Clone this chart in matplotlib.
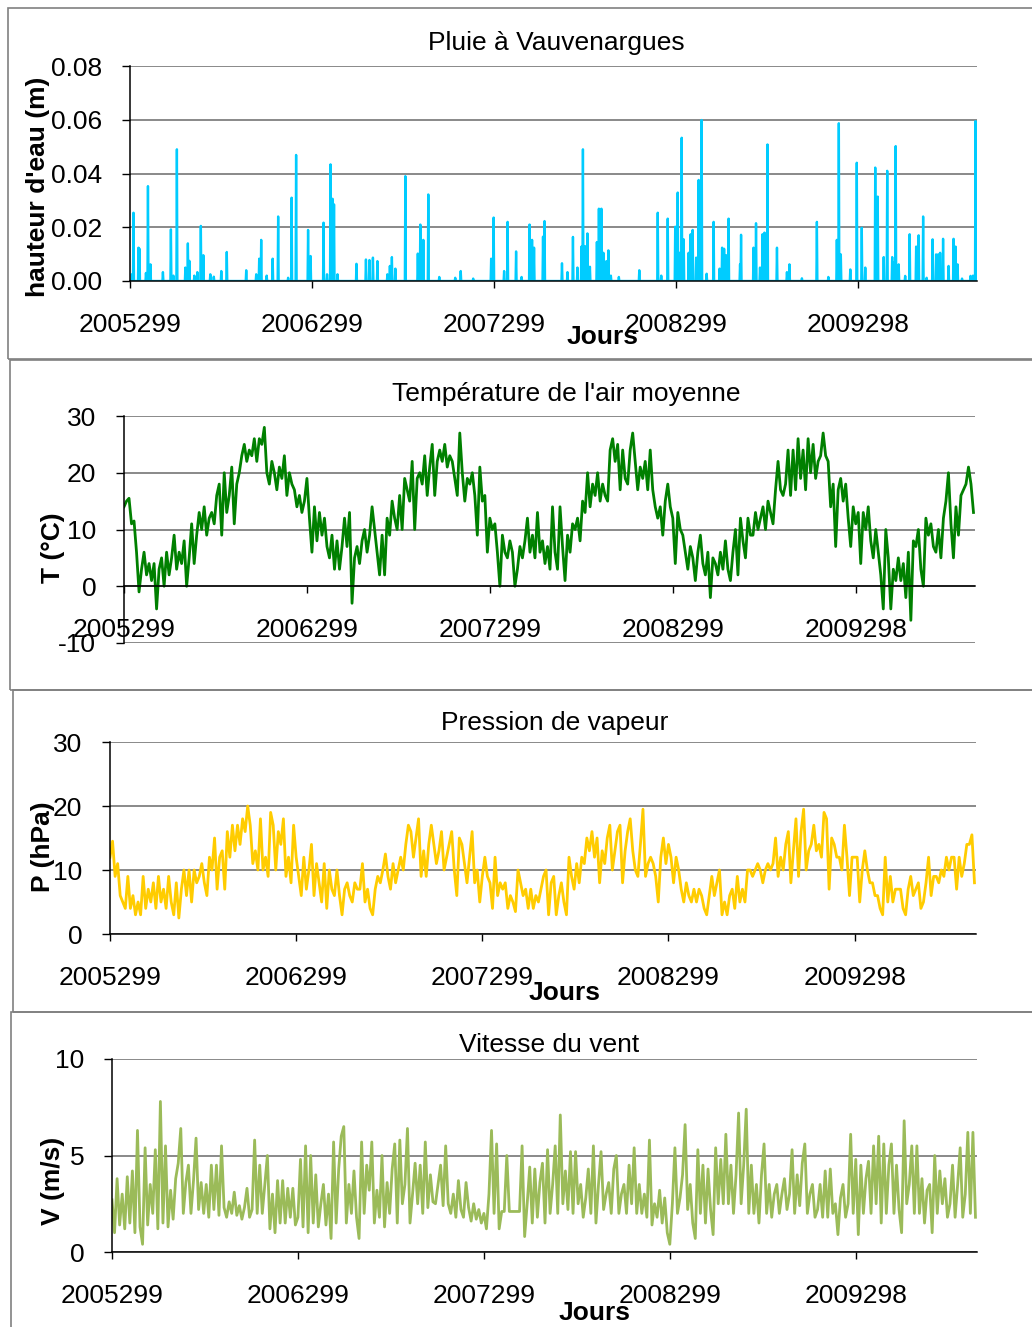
import numpy as np
import matplotlib.pyplot as plt
from matplotlib.patches import Rectangle
from matplotlib.ticker import FormatStrFormatter

plt.rcParams['font.family'] = ['Liberation Sans', 'DejaVu Sans']

# ---------------------------------------------------------------
# donnees (jours comptes depuis 2005299, un point tous les 5 jours)
# ---------------------------------------------------------------
jours = np.arange(0, 1700, 5)

graduations = [0, 365, 730, 1095, 1460]
etiquettes = ['2005299', '2006299', '2007299', '2008299', '2009298']

# pluie : jours de pluie et hauteur d'eau (m), zero les autres jours
pluie_jour = [4, 7, 17, 19, 32, 36, 41, 66, 82, 87, 94, 111, 116, 119, 129, 135, 142, 147, 161, 168,
              183, 194, 233, 253, 259, 263, 274, 286, 297, 317, 324, 333, 357, 362, 388, 395, 402, 406, 409, 416,
              454, 473, 480, 487, 496, 516, 521, 525, 532, 552, 577, 582, 588, 598, 620, 652, 663, 688, 724, 729,
              750, 757, 774, 785, 801, 806, 810, 828, 831, 866, 877, 888, 897, 905, 908, 912, 917, 922, 936, 940,
              945, 949, 955, 959, 964, 980, 1021, 1058, 1065, 1078, 1093, 1098, 1102, 1106, 1110, 1120, 1124, 1128, 1135, 1140,
              1146, 1156, 1170, 1182, 1187, 1191, 1195, 1200, 1223, 1225, 1250, 1255, 1263, 1268, 1272, 1278, 1297, 1317, 1322, 1347,
              1377, 1400, 1417, 1421, 1425, 1444, 1457, 1467, 1474, 1494, 1499, 1511, 1518, 1528, 1531, 1535, 1541, 1554, 1563, 1576,
              1581, 1590, 1597, 1609, 1616, 1620, 1624, 1630, 1641, 1651, 1655, 1659, 1668, 1685, 1690, 1695]
pluie_h = [0.0025, 0.0254, 0.0124, 0.012, 0.003, 0.0353, 0.0062, 0.0033, 0.0192, 0.002, 0.049, 0.005, 0.014, 0.0075, 0.002, 0.0033, 0.0205, 0.0096, 0.0025, 0.0016,
           0.0037, 0.0108, 0.004, 0.0025, 0.0083, 0.0153, 0.002, 0.0083, 0.024, 0.0012, 0.031, 0.0469, 0.019, 0.0093, 0.0217, 0.0025, 0.0434, 0.0306, 0.0285, 0.0025,
           0.0064, 0.008, 0.0078, 0.0087, 0.0074, 0.0025, 0.0056, 0.0089, 0.0046, 0.039, 0.0102, 0.021, 0.0153, 0.0322, 0.0015, 0.0012, 0.0037, 0.0009, 0.0083, 0.0236,
           0.0037, 0.022, 0.011, 0.0015, 0.021, 0.0153, 0.0124, 0.0165, 0.0223, 0.0066, 0.0033, 0.0164, 0.005, 0.0128, 0.049, 0.013, 0.0177, 0.0053, 0.0145, 0.0269,
           0.0269, 0.0105, 0.0074, 0.0114, 0.002, 0.0015, 0.004, 0.0254, 0.002, 0.0232, 0.0202, 0.0329, 0.0105, 0.0533, 0.0155, 0.0105, 0.0174, 0.019, 0.0087, 0.0376,
           0.0599, 0.0027, 0.022, 0.0046, 0.0124, 0.012, 0.0096, 0.0232, 0.0062, 0.0172, 0.0124, 0.0215, 0.005, 0.0174, 0.018, 0.0508, 0.0124, 0.0033, 0.0062, 0.001,
           0.022, 0.0015, 0.0153, 0.0587, 0.0099, 0.0043, 0.044, 0.0198, 0.005, 0.0422, 0.0314, 0.0089, 0.041, 0.0089, 0.0068, 0.0502, 0.0062, 0.0019, 0.0174, 0.0128,
           0.017, 0.024, 0.0012, 0.0155, 0.0099, 0.0099, 0.0105, 0.0157, 0.0056, 0.0157, 0.0128, 0.0062, 0.0009, 0.0019, 0.002, 0.0595]

# temperature de l'air moyenne (degC)
temp = [14, 15, 15.5, 11, 11.5, 6, -1, 3, 6, 2, 4, 1, 4, -4, 3, 5, 0, 6, 2, 5,
        9, 3, 6, 4, 8, 0, 5, 11, 4, 9, 13, 10, 14, 9, 12, 13, 11, 16, 18, 9,
        20, 13, 16, 21, 11, 18, 20, 23, 25, 22, 24, 23, 26, 22, 26, 25, 28, 20, 18, 22,
        20, 17, 21, 19, 23, 16, 20, 18, 17, 14, 16, 13, 15, 19, 12, 6, 14, 8, 13, 9,
        12, 7, 5, 9, 3, 8, 3, 7, 12, 7, 13, -3, 5, 7, 4, 8, 10, 6, 9, 14,
        10, 6, 2, 9, 2, 12, 9, 15, 12, 10, 16, 10, 19, 17, 15, 22, 10, 19, 20, 18,
        23, 16, 21, 25, 16, 22, 24, 22, 25, 21, 23, 22, 19, 16, 27, 20, 15, 19, 18, 20,
        16, 9, 21, 15, 16, 6, 12, 10, 11, 6, 0, 9, 6, 5, 8, 6, 0, 3, 7, 5,
        8, 12, 6, 9, 5, 13, 6, 8, 4, 7, 3, 14, 6, 3, 14, 7, 1, 9, 6, 11,
        10, 12, 8, 15, 13, 20, 14, 18, 16, 20, 15, 18, 16, 15, 24, 26, 22, 25, 17, 24,
        19, 18, 24, 27, 22, 17, 21, 19, 22, 17, 24, 17, 14, 12, 14, 9, 15, 18, 14, 12,
        4, 13, 10, 9, 6, 3, 7, 5, 1, 6, 9, 4, 2, 6, -2, 5, 4, 2, 6, 3,
        8, 3, 1, 6, 10, 2, 12, 8, 5, 12, 9, 9, 13, 10, 12, 14, 10, 15, 13, 11,
        17, 22, 17, 16, 18, 24, 16, 24, 17, 26, 19, 24, 17, 26, 20, 25, 19, 22, 23, 27,
        23, 22, 14, 18, 7, 17, 19, 15, 18, 12, 7, 14, 11, 13, 4, 13, 10, 14, 8, 5,
        10, 6, 2, -4, 10, 5, -4, 3, 1, 5, 1, 4, -2, 6, -6, 8, 7, 10, 3, 0,
        12, 9, 11, 7, 6, 10, 5, 12, 15, 20, 11, 5, 14, 9, 16, 17, 18, 21, 18, 13]

# pression de vapeur (hPa)
pvap = [12, 14.5, 9, 11, 6, 5, 4, 9, 4, 6, 3, 5, 3, 9, 4, 7, 5, 8, 4, 9,
        5, 7, 4, 9, 5, 3, 8, 2.5, 7, 10, 6, 10, 5, 10, 8, 9, 11, 8, 6, 12,
        10, 15, 7, 12, 13, 7, 16, 12, 17, 13, 17, 14, 18, 16, 20, 17, 11, 13, 10, 18,
        10, 12, 9, 19, 17, 10, 16, 14, 18, 9, 12, 8, 17, 12, 9, 6, 12, 7, 10, 14,
        6, 11, 8, 5, 11, 4, 10, 7, 6, 10, 6, 3, 7, 8, 6, 5, 8, 7, 7, 11,
        5, 7, 4, 3, 7, 9, 8, 10, 12.5, 9, 7, 11, 8, 10, 12, 10, 14, 17, 16, 12,
        15, 18, 9, 13, 9, 14, 17, 14, 11, 13, 16, 10, 12, 14, 16, 10, 6, 15, 14, 11,
        8, 12, 16, 8, 10, 5, 9, 12, 9, 8, 4, 12, 6, 8, 7, 8, 4, 6, 5, 3.5,
        10, 8, 6, 7, 4, 7, 4, 6, 5, 7, 9, 10, 3, 8, 9, 3, 6, 8, 5, 3,
        12, 9, 7, 11, 8, 12, 11, 15, 13, 16, 12, 15, 8, 13, 11, 15, 17, 10, 13, 16,
        17, 8, 13, 16, 18, 13, 10, 9, 14, 19.5, 9, 11, 12, 11, 9, 5, 12, 15, 11, 14,
        12, 8, 12, 10, 7, 5, 8, 6, 5, 7, 5, 7, 6, 4, 3, 6, 9, 6, 8, 10,
        3, 5, 3, 6, 7, 4, 9, 5, 7, 5, 10, 10, 9, 10, 11, 10, 8, 10, 11, 10,
        11, 15, 9, 12, 10, 14, 16, 8, 13, 18, 9, 16, 19.5, 10, 13, 14, 17, 13, 14, 12,
        19, 18, 7, 15, 14, 12, 12, 10, 17, 12, 6, 12, 12, 12, 5, 10, 13, 10, 8, 8,
        6, 6, 4, 3, 12, 5, 9, 5, 7, 7, 7, 4, 3, 7, 9, 6, 7, 8, 4, 5,
        8, 12, 6, 9, 9, 8, 10, 9, 12, 10, 12, 12, 7, 12, 9, 11, 14, 14, 15.5, 8]

# vitesse du vent (m/s)
vent = [2.7, 1.0, 3.8, 1.4, 3.0, 1.2, 3.9, 1.5, 4.2, 1.0, 6.3, 1.3, 0.4, 5.4, 1.4, 3.5, 2.0, 5.3, 1.2, 7.8,
        1.5, 5.5, 1.3, 3.2, 1.7, 3.8, 4.6, 6.4, 2.0, 3.6, 4.5, 2.0, 3.7, 5.9, 2.2, 3.6, 2.0, 3.5, 1.8, 4.5,
        2.2, 4.5, 1.9, 5.5, 2.3, 1.8, 2.6, 2.0, 3.1, 1.9, 2.4, 1.7, 2.3, 3.3, 1.8, 2.2, 5.8, 2.0, 4.5, 2.0,
        3.5, 5.0, 1.2, 3.0, 1.0, 3.7, 1.5, 3.7, 1.5, 3.3, 1.8, 3.3, 1.4, 1.8, 4.8, 1.3, 5.5, 1.0, 5.0, 1.5,
        4.0, 1.3, 2.5, 3.5, 1.4, 3.0, 0.7, 5.7, 1.5, 4.3, 6.0, 6.5, 1.5, 3.5, 2.0, 4.2, 1.8, 0.7, 5.7, 2.0,
        4.5, 3.2, 5.7, 1.5, 3.2, 1.8, 5.0, 1.3, 3.6, 2.0, 4.3, 5.6, 1.5, 5.8, 2.5, 3.5, 6.4, 1.5, 3.0, 4.6,
        2.5, 4.5, 2.0, 5.7, 2.3, 4.0, 2.6, 2.5, 3.5, 4.5, 2.4, 5.5, 2.5, 2.0, 3.0, 1.8, 3.7, 2.2, 1.8, 3.6,
        2.3, 1.6, 2.5, 1.7, 2.2, 1.5, 2.0, 1.2, 3.0, 6.3, 2.0, 5.6, 1.2, 2.1, 2.1, 5.0, 2.1, 2.1, 2.1, 2.1,
        2.1, 5.5, 0.8, 2.5, 4.4, 1.5, 4.3, 1.8, 3.6, 4.6, 1.5, 5.3, 2.0, 3.5, 5.5, 2.0, 7.1, 2.5, 4.2, 2.2,
        5.2, 2.0, 5.2, 2.5, 3.5, 1.8, 2.8, 4.3, 2.0, 5.5, 1.5, 3.5, 5.2, 2.2, 3.0, 3.6, 2.0, 4.3, 5.0, 2.0,
        3.0, 3.5, 2.0, 4.5, 2.5, 5.4, 2.0, 3.5, 2.0, 3.0, 1.8, 5.8, 1.4, 2.5, 1.8, 3.2, 1.5, 2.8, 1.0, 0.4,
        2.5, 5.4, 2.0, 2.8, 4.0, 6.6, 2.2, 3.5, 1.5, 0.7, 5.3, 2.0, 4.5, 1.5, 4.3, 2.2, 0.9, 5.4, 2.5, 4.8,
        2.5, 6.1, 2.5, 4.5, 2.0, 4.0, 7.2, 2.5, 4.5, 7.4, 2.0, 4.5, 2.0, 3.5, 1.5, 4.0, 5.6, 2.0, 3.5, 1.8,
        3.0, 3.5, 2.0, 3.0, 3.8, 2.2, 3.0, 5.3, 2.0, 4.0, 2.4, 4.6, 5.6, 2.0, 3.0, 3.5, 1.8, 2.2, 3.5, 1.8,
        4.2, 1.8, 4.3, 2.0, 2.5, 0.9, 2.8, 3.5, 1.8, 2.5, 6.1, 2.0, 4.8, 0.9, 4.5, 2.0, 3.8, 4.7, 2.0, 5.5,
        2.5, 6.0, 1.5, 5.6, 2.0, 4.5, 5.6, 2.0, 4.5, 2.2, 1.0, 6.8, 2.5, 3.5, 5.5, 2.0, 5.5, 2.0, 3.8, 1.5,
        3.2, 3.5, 1.0, 5.0, 2.0, 4.2, 2.5, 3.8, 1.8, 2.5, 4.5, 1.8, 3.5, 5.4, 1.8, 3.0, 6.2, 2.0, 6.2, 1.8]

# serie journaliere de pluie
nb_jours = 1698
pluie = np.zeros(nb_jours)
pluie[pluie_jour] = pluie_h

# ---------------------------------------------------------------
# figure
# ---------------------------------------------------------------
W, H = 1032, 1327
fig = plt.figure(figsize=(W / 100, H / 100), dpi=100)
TAILLE = 19


def cadre(g, h, b):
    # bordure grise autour de chaque graphique
    fig.add_artist(Rectangle((g / W, 1 - b / H), (1100 - g) / W, (b - h) / H,
                             transform=fig.transFigure, fill=False,
                             ec='#808080', lw=1.2, clip_on=False))


def graphique(g, h, d, b, ymin, ymax, pas_y, fmt):
    ax = fig.add_axes([g / W, 1 - b / H, (d - g) / W, (b - h) / H])
    ax.patch.set_alpha(0)
    ax.set_xlim(0, nb_jours)
    ax.set_ylim(ymin, ymax)
    ax.set_yticks(np.arange(ymin, ymax + pas_y / 2, pas_y))
    ax.yaxis.set_major_formatter(FormatStrFormatter(fmt))
    ax.set_xticks(graduations)
    ax.set_xticklabels(etiquettes)
    ax.grid(axis='y', color='#808080', lw=1.3)
    ax.set_axisbelow(True)
    ax.spines['top'].set_visible(False)
    ax.spines['right'].set_visible(False)
    ax.spines['bottom'].set_position(('data', 0))
    ax.spines['left'].set_linewidth(1.1)
    ax.spines['bottom'].set_linewidth(1.1)
    ax.tick_params(axis='x', direction='out', length=5, width=1, pad=18, labelsize=TAILLE)
    ax.tick_params(axis='y', direction='out', length=6, width=1, pad=14, labelsize=TAILLE)
    return ax


def texte(x, y, s, gras=False, rot=0):
    fig.text(x / W, 1 - y / H, s, ha='center', va='center', rotation=rot,
             fontsize=TAILLE, fontweight='bold' if gras else 'normal')


# Pluie
cadre(8, 8, 359)
ax1 = graphique(130, 66, 977, 281, 0, 0.08, 0.02, '%.2f')
ax1.plot(np.arange(nb_jours), pluie, color='#00CCFF', lw=1.7)
texte(556, 43, 'Pluie à Vauvenargues')
texte(38, 187, "hauteur d'eau (m)", gras=True, rot=90)
texte(603, 337, 'Jours', gras=True)

# Temperature
cadre(10, 360, 690)
ax2 = graphique(124, 416, 975, 643, -10, 30, 10, '%d')
ax2.plot(jours, temp, color='#008000', lw=2.0)
texte(566, 394, "Température de l'air moyenne")
texte(53, 548, 'T (°C)', gras=True, rot=90)

# Pression de vapeur
cadre(13, 690, 1012)
ax3 = graphique(110, 742, 976, 934, 0, 30, 10, '%d')
ax3.plot(jours, pvap, color='#FFCC00', lw=2.0)
texte(555, 723, 'Pression de vapeur')
texte(43, 847, 'P (hPa)', gras=True, rot=90)
texte(565, 993, 'Jours', gras=True)

# Vent
cadre(11, 1012, 1360)
ax4 = graphique(112, 1059, 977, 1252, 0, 10, 5, '%d')
ax4.plot(jours, vent, color='#9BBB59', lw=2.0)
texte(549, 1045, 'Vitesse du vent')
texte(53, 1181, 'V (m/s)', gras=True, rot=90)
texte(595, 1313, 'Jours', gras=True)

fig.savefig('out.png', dpi=100)
